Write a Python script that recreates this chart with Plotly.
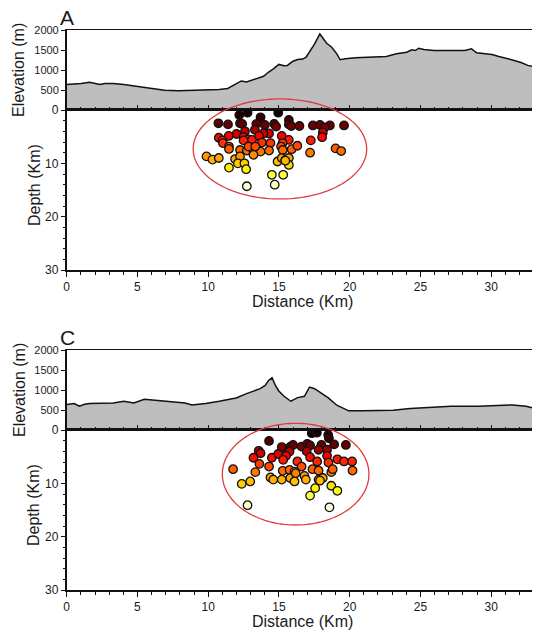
import numpy as np
import plotly.graph_objects as go

# ---------------- data ----------------
# Topographic profile A-B (distance km, elevation m)
ab_dist = [0, 0.53, 1.01, 1.62, 1.98, 2.34, 2.70, 3.30, 4.03, 4.99,
           5.96, 6.92, 7.88, 8.85, 9.81, 10.78, 11.38, 11.98, 12.34, 12.71,
           13.43, 13.91, 14.27, 14.63, 14.99, 15.36, 15.60, 15.96, 16.32, 16.68,
           16.92, 17.16, 17.52, 17.89, 18.13, 18.37, 18.73, 19.09, 19.33, 19.69,
           20.42, 21.38, 22.59, 23.31, 24.03, 24.39, 24.64, 24.88, 25.24, 25.96,
           26.68, 27.41, 28.13, 28.61, 28.97, 29.58, 30.06, 30.54, 30.90, 31.26,
           31.63, 32.11, 32.59, 32.95, 33.45]
ab_elev = [636, 644, 661, 694, 661, 636, 661, 661, 636, 595,
           553, 496, 479, 487, 496, 512, 537, 644, 727, 702,
           785, 843, 950, 1033, 1140, 1107, 1115, 1214, 1264, 1272,
           1322, 1446, 1652, 1900, 1792, 1669, 1569, 1404, 1256, 1280,
           1305, 1322, 1338, 1404, 1446, 1503, 1487, 1545, 1512, 1487,
           1487, 1470, 1487, 1528, 1429, 1404, 1388, 1338, 1305, 1289,
           1239, 1189, 1115, 1090, 1065]

# Topographic profile C-D
cd_dist = [0, 0.53, 0.89, 1.26, 1.62, 2.34, 3.30, 4.03, 4.75, 5.48,
           6.20, 6.92, 7.64, 8.37, 8.85, 9.33, 9.81, 10.78, 11.50, 11.98,
           12.71, 13.19, 13.67, 14.03, 14.27, 14.51, 14.75, 14.99, 15.36, 15.84,
           16.32, 16.80, 17.16, 17.52, 18.01, 18.49, 19.09, 19.45, 19.93, 20.90,
           21.86, 23.07, 24.27, 25.72, 27.16, 29.09, 30.30, 31.50, 32.47, 33.07,
           33.45]
cd_elev = [636, 661, 595, 644, 661, 661, 677, 719, 677, 768,
           743, 719, 702, 677, 628, 644, 661, 719, 760, 801,
           909, 975, 1033, 1115, 1239, 1305, 1115, 975, 843, 719,
           810, 843, 1074, 1033, 925, 801, 620, 562, 479, 479,
           479, 496, 537, 562, 595, 595, 620, 628, 595, 537,
           525]

# Earthquakes projected on A-B (distance km, depth km)
ab_eq_dist = [12.2, 12.78, 14.95, 13.7, 10.72, 11.4, 12.25, 12.4, 13.4, 14.0,
              14.66, 14.8, 15.7, 15.7, 15.87, 16.45, 17.4, 17.9, 18.6, 18.24,
              18.1, 19.6, 13.3, 12.6, 14.3, 13.9, 12.0, 11.45, 10.75, 11.0,
              12.49, 12.85, 12.5, 13.1, 13.6, 15.2, 17.25, 18.05, 15.7, 15.26,
              13.8, 14.4, 11.04, 11.47, 11.47, 12.25, 12.73, 13.2, 13.7, 14.3,
              12.85, 13.33, 15.15, 15.27, 15.9, 16.3, 17.2, 19.0, 19.4, 13.2,
              9.88, 10.3, 10.75, 11.9, 12.25, 12.1, 12.56, 14.9, 15.2, 15.45,
              15.7, 15.7, 15.45, 11.47, 12.68, 14.5, 15.3, 12.73, 14.7]
ab_eq_depth = [0.93, 0.5, 0.5, 1.37, 2.5, 2.7, 2.5, 2.6, 2.6, 2.8,
               2.6, 3.1, 1.87, 2.7, 3.0, 3.0, 2.9, 2.8, 2.9, 3.24,
               4.2, 2.9, 3.7, 4.0, 4.4, 4.4, 4.5, 4.86, 5.2, 5.7,
               5.1, 5.5, 5.7, 5.6, 4.86, 4.86, 5.7, 5.1, 5.6, 6.2,
               6.1, 6.2, 6.2, 6.85, 7.3, 7.5, 7.6, 7.6, 7.8, 7.6,
               6.85, 6.85, 6.85, 7.5, 7.35, 6.7, 8.0, 7.2, 7.7, 8.4,
               8.7, 9.3, 9.0, 9.2, 8.7, 10.0, 10.0, 9.66, 9.0, 9.35,
               9.0, 10.3, 9.5, 10.8, 11.1, 12.15, 12.15, 14.3, 14.0]

# Earthquakes projected on C-D
cd_eq_dist = [17.32, 17.68, 18.48, 18.53, 14.3, 13.57, 15.2, 15.82, 16.0, 16.6,
              17.0, 17.2, 18.0, 18.9, 19.73, 16.96, 17.8, 18.4, 13.7, 15.6,
              15.75, 13.2, 14.5, 14.95, 15.5, 15.3, 16.3, 17.2, 17.7, 18.4,
              18.5, 19.13, 19.6, 20.17, 13.62, 11.76, 13.33, 14.3, 15.27, 15.75,
              16.6, 17.37, 17.8, 18.7, 18.8, 20.2, 16.1, 14.4, 14.6, 15.2,
              15.8, 16.1, 16.8, 16.9, 17.8, 18.1, 17.9, 16.18, 12.37, 12.97,
              18.7, 17.56, 19.13, 17.2, 12.78, 18.57]
cd_eq_depth = [0.6, 0.5, 0.93, 1.56, 2.05, 3.9, 3.2, 3.1, 2.8, 3.1,
               2.6, 2.9, 2.8, 2.7, 2.8, 4.0, 3.7, 3.7, 4.36, 4.2,
               4.05, 5.2, 5.2, 4.5, 4.85, 5.6, 5.9, 5.1, 5.9, 4.85,
               6.1, 5.5, 5.9, 5.9, 6.35, 7.35, 7.9, 6.85, 7.65, 7.47,
               6.85, 7.35, 7.6, 7.9, 7.35, 7.6, 7.8, 8.9, 9.3, 9.3,
               9.0, 9.65, 8.6, 9.3, 9.3, 9.0, 9.5, 8.1, 10.1, 9.65,
               10.45, 10.9, 11.4, 12.3, 14.1, 14.5]

# Highlight ellipses: centre distance, centre depth, half-width (km), half-height (km)
ab_ellipse = (15.07, 7.3, 6.13, 9.38)
cd_ellipse = (16.18, 8.28, 5.18, 9.53)

section_labels = [("A", "B"), ("C", "D")]

X_RANGE = [0, 33.45]
ELEV_RANGE = [0, 2000]
ELEV_TICKS = [0, 500, 1000, 1500, 2000]
ELEV_TICKTEXT = ["", "500", "1000", "1500", "2000"]  # depth axis shows the shared "0"
DEPTH_RANGE = [30, 0]

# ---------------- layout geometry ----------------
# The page body has an 8 px margin, so the figure is sized to fill the rest of the window.
PAGE_OFF = 8
W, H = 540 - PAGE_OFF, 632 - PAGE_OFF
X0_PAGE = 66.7
panels_page = [(30, 110, 270), (350, 430, 590)]  # elevation top, boundary, depth bottom


def px(p):
    return (p - PAGE_OFF) / W


def py(p):
    return 1 - (p - PAGE_OFF) / H


FONT = "Liberation Sans, Arial, Helvetica, sans-serif"
TXT = "#1a1a1a"
HOT = [[0, "#000000"], [0.2, "#700000"], [0.33, "#ff0000"], [0.75, "#ffff00"], [1, "#ffffff"]]

fig = go.Figure()

profiles = [(ab_dist, ab_elev, ab_eq_dist, ab_eq_depth, ab_ellipse),
            (cd_dist, cd_elev, cd_eq_dist, cd_eq_depth, cd_ellipse)]

shapes = []
annotations = []
axes = {}
for i, (dist, elev, eqd, eqz, ell) in enumerate(profiles):
    ne = 2 * i + 1      # elevation axes index
    nd = 2 * i + 2      # depth axes index
    top, mid, bot = panels_page[i]
    ex = "x" if ne == 1 else f"x{ne}"
    ey = "y" if ne == 1 else f"y{ne}"
    dx, dy = f"x{nd}", f"y{nd}"

    fig.add_trace(go.Scatter(x=dist, y=elev, mode="lines", fill="tozeroy",
                             fillcolor="#bebebe", line=dict(color="#111111", width=1.5),
                             xaxis=ex, yaxis=ey, hoverinfo="skip"))
    fig.add_trace(go.Scatter(x=eqd, y=eqz, mode="markers", xaxis=dx, yaxis=dy,
                             marker=dict(size=8.5, color=eqz, colorscale=HOT, cmin=0, cmax=15,
                                         line=dict(color="#111111", width=1.3))))

    xdom = [px(X0_PAGE), 1]
    # elevation x-axis (no labels, inside ticks)
    axes[("xaxis" if ne == 1 else f"xaxis{ne}")] = dict(
        domain=xdom, range=X_RANGE, anchor=ey, showgrid=False, zeroline=False,
        automargin=False, showticklabels=False, ticks="inside", ticklen=5, dtick=5,
        tick0=0, tickcolor="#111", showline=True, mirror=True, linecolor="#111",
        linewidth=1.2,
        minor=dict(ticks="inside", ticklen=3, dtick=1, tickcolor="#111"))
    axes[("yaxis" if ne == 1 else f"yaxis{ne}")] = dict(
        domain=[py(mid), py(top)], range=ELEV_RANGE, anchor=ex, showgrid=False,
        zeroline=False, automargin=False, tickvals=ELEV_TICKS, ticktext=ELEV_TICKTEXT,
        ticks="outside", ticklen=4,
        tickcolor="#111", tickfont=dict(size=11, color=TXT, family=FONT),
        showline=True, linecolor="#111", linewidth=1.5, mirror=True)
    axes[f"xaxis{nd}"] = dict(
        domain=xdom, range=X_RANGE, anchor=dy, showgrid=False, zeroline=False,
        automargin=False, ticks="outside", ticklen=5, dtick=5, tick0=0, tickcolor="#111",
        tickfont=dict(size=12, color=TXT, family=FONT),
        showline=True, mirror=True, linecolor="#111", linewidth=1.6,
        minor=dict(ticks="outside", ticklen=3, dtick=1, tickcolor="#111"))
    axes[f"yaxis{nd}"] = dict(
        domain=[py(bot), py(mid)], range=DEPTH_RANGE, anchor=dx, showgrid=False,
        zeroline=False, automargin=False, dtick=10, tick0=0, ticks="outside", ticklen=4,
        tickcolor="#111", tickfont=dict(size=12, color=TXT, family=FONT),
        showline=True, linecolor="#111", linewidth=1.8, mirror=True,
        minor=dict(ticks="outside", ticklen=2, dtick=2, tickcolor="#111"))

    # ellipse, in domain fractions of the depth axes (drawn unclipped)
    cx, cz, ax_, az_ = ell
    t = np.linspace(0, 2 * np.pi, 161)
    ex_km = cx + ax_ * np.cos(t)
    ez_km = cz + az_ * np.sin(t)
    fx = (ex_km - X_RANGE[0]) / (X_RANGE[1] - X_RANGE[0])
    fz = (DEPTH_RANGE[0] - ez_km) / (DEPTH_RANGE[0] - DEPTH_RANGE[1])
    path = "M " + " L ".join(f"{a:.5f},{b:.5f}" for a, b in zip(fx, fz)) + " Z"
    shapes.append(dict(type="path", path=path, xref=f"{dx} domain", yref=f"{dy} domain",
                       line=dict(color="#e23b3b", width=1.3), layer="above"))

    # text
    lab_l, lab_r = section_labels[i]
    annotations += [
        dict(text=lab_l, x=px(59), y=py(top), xref="paper", yref="paper", xanchor="left",
             yanchor="bottom", showarrow=False, font=dict(size=21, color=TXT, family=FONT),
             borderpad=0),
        dict(text=lab_r, x=px(533), y=py(top), xref="paper", yref="paper", xanchor="left",
             yanchor="bottom", showarrow=False, font=dict(size=21, color=TXT, family=FONT),
             borderpad=0),
        dict(text="Elevation (m)", x=px(19), y=py((top + mid) / 2), xref="paper",
             yref="paper", xanchor="center", yanchor="middle", textangle=-90,
             showarrow=False, font=dict(size=16, color=TXT, family=FONT)),
        dict(text="Depth (Km)", x=px(34), y=py((mid + bot) / 2 - 5), xref="paper",
             yref="paper", xanchor="center", yanchor="middle", textangle=-90,
             showarrow=False, font=dict(size=16, color=TXT, family=FONT)),
        dict(text="Distance (Km)", x=px(302), y=py(bot + 31), xref="paper", yref="paper",
             xanchor="center", yanchor="middle", showarrow=False,
             font=dict(size=16, color=TXT, family=FONT)),
    ]

fig.update_layout(template="none", width=W, height=H, margin=dict(l=0, r=0, t=0, b=0),
                  paper_bgcolor="white", plot_bgcolor="white", showlegend=False,
                  font=dict(family=FONT, color=TXT), shapes=shapes,
                  annotations=annotations, **axes)

fig.write_html("out.html")
